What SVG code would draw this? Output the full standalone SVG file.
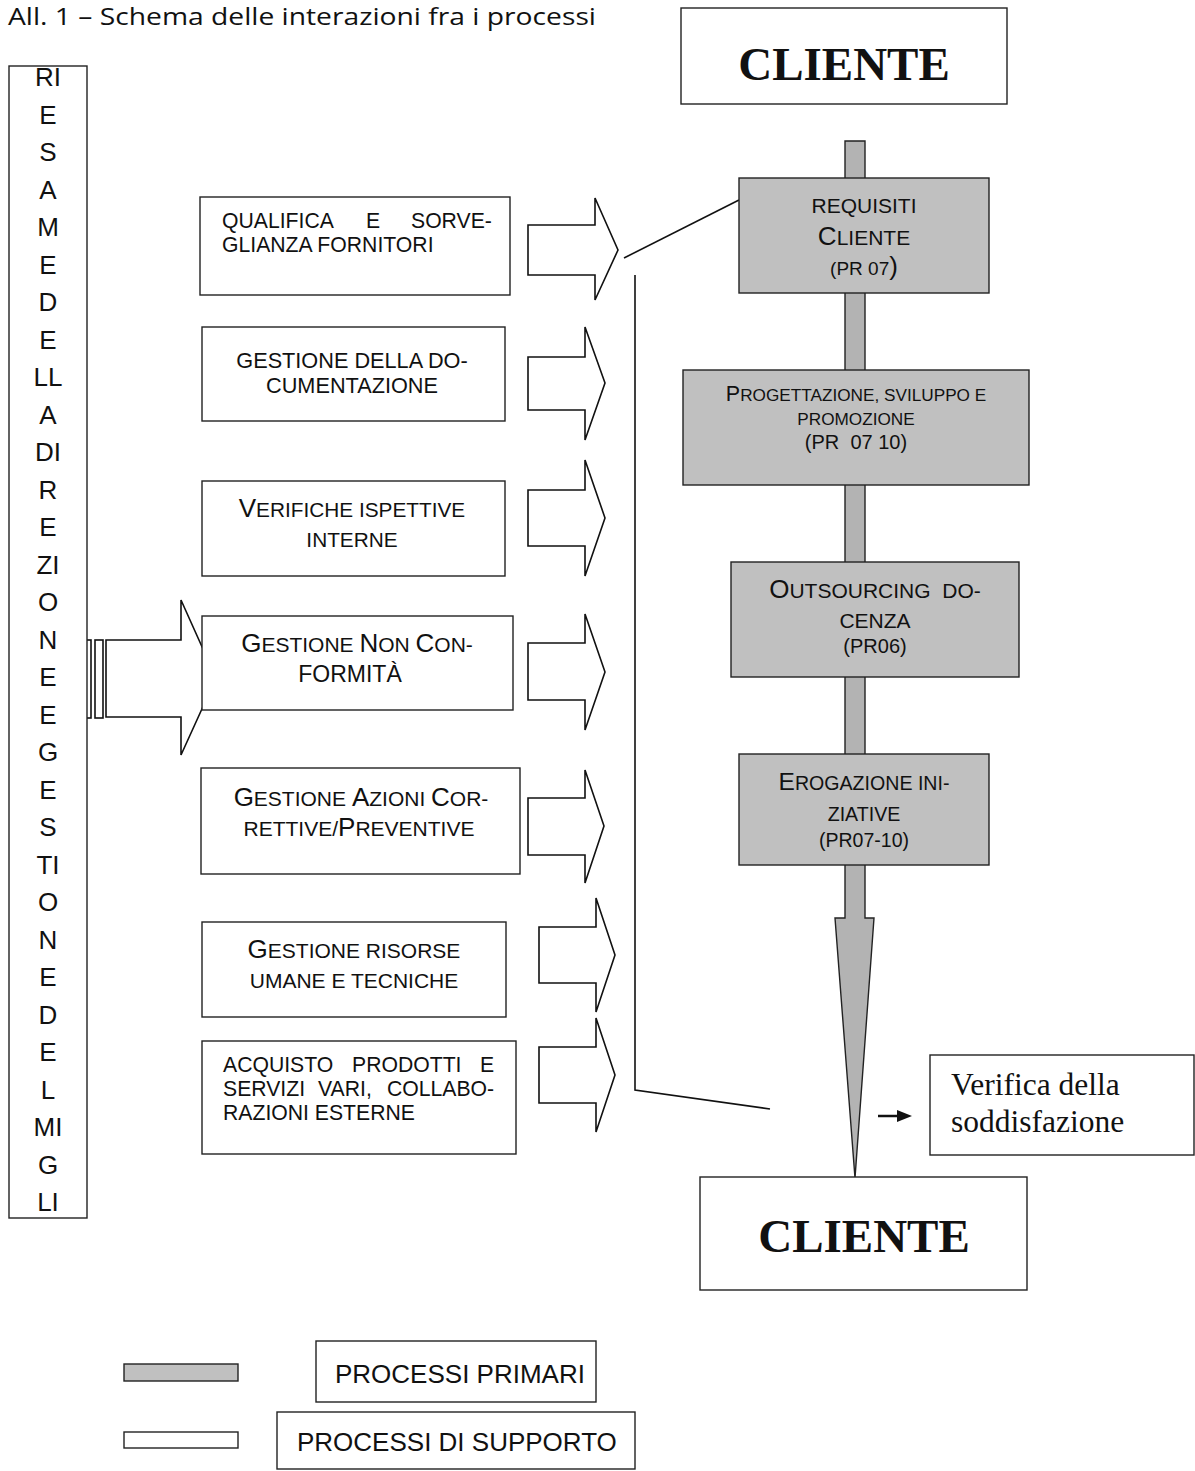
<svg xmlns="http://www.w3.org/2000/svg" width="1195" height="1471" viewBox="0 0 1195 1471">
<style>
.box{fill:#fff;stroke:#222;stroke-width:1.4}
.gbox{fill:#c0c0c0;stroke:#222;stroke-width:1.4}
.bar{fill:#b3b3b3;stroke:#222;stroke-width:1.4}
.blk{fill:#fff;stroke:#111;stroke-width:1.6;stroke-linejoin:miter}
.ln{fill:none;stroke:#111;stroke-width:1.6}
.t{font-family:"Liberation Sans",Arial,sans-serif;fill:#111}
.c{text-anchor:middle}
.v{font-family:"Liberation Sans",Arial,sans-serif;font-size:26px;text-anchor:middle;fill:#111}
.serif{font-family:"Liberation Serif","Times New Roman",serif;fill:#111}
.pre{white-space:pre}
</style>

<text x="8" y="25" font-family="Open Sans, Noto Sans, sans-serif" font-size="23" fill="#111" textLength="588" lengthAdjust="spacingAndGlyphs">All. 1 – Schema delle interazioni fra i processi</text>

<!-- primary flow bar + funnel -->
<g id="primary-flow">
<polygon class="bar" points="845,141 865,141 865,918 874,918 855,1178 835,918 845,918"/>
</g>

<!-- connectors -->
<g id="connectors">
<polygon class="blk" points="528,225 595,225 595,198 618,250 595,300 595,275 528,275"/>
<polygon class="blk" points="528,357 585,357 585,327 605,383 585,440 585,410 528,410"/>
<polygon class="blk" points="528,490 585,490 585,460 605,518 585,576 585,546 528,546"/>
<polygon class="blk" points="528,643 585,643 585,614 605,672 585,730 585,700 528,700"/>
<polygon class="blk" points="528,798 585,798 585,770 604,826 585,883 585,855 528,855"/>
<polygon class="blk" points="539,927 596,927 596,898 615,955 596,1012 596,983 539,983"/>
<polygon class="blk" points="539,1047 596,1047 596,1018 615,1075 596,1132 596,1103 539,1103"/>
<g id="big-arrow">
<rect class="blk" x="86" y="640" width="5" height="78"/>
<rect class="blk" x="95" y="640" width="8" height="78"/>
<polygon class="blk" points="106,640 181,640 181,600 216,678 181,755 181,717 106,717"/>
</g>
<line class="ln" x1="739" y1="200" x2="624" y2="258"/>
<polyline class="ln" points="635,275 635,1090 770,1109"/>
<line x1="878" y1="1116" x2="899" y2="1116" stroke="#111" stroke-width="2.5"/>
<polygon points="897,1110 912,1116 897,1122" fill="#111"/>
</g>

<g id="riesame">
<rect class="box" x="9" y="66" width="78" height="1152"/>
<text class="v" x="48" y="86">RI</text>
<text class="v" x="48" y="123.5">E</text>
<text class="v" x="48" y="161">S</text>
<text class="v" x="48" y="198.5">A</text>
<text class="v" x="48" y="236">M</text>
<text class="v" x="48" y="273.5">E</text>
<text class="v" x="48" y="311">D</text>
<text class="v" x="48" y="348.5">E</text>
<text class="v" x="48" y="386">LL</text>
<text class="v" x="48" y="423.5">A</text>
<text class="v" x="48" y="461">DI</text>
<text class="v" x="48" y="498.5">R</text>
<text class="v" x="48" y="536">E</text>
<text class="v" x="48" y="573.5">ZI</text>
<text class="v" x="48" y="611">O</text>
<text class="v" x="48" y="648.5">N</text>
<text class="v" x="48" y="686">E</text>
<text class="v" x="48" y="723.5">E</text>
<text class="v" x="48" y="761">G</text>
<text class="v" x="48" y="798.5">E</text>
<text class="v" x="48" y="836">S</text>
<text class="v" x="48" y="873.5">TI</text>
<text class="v" x="48" y="911">O</text>
<text class="v" x="48" y="948.5">N</text>
<text class="v" x="48" y="986">E</text>
<text class="v" x="48" y="1023.5">D</text>
<text class="v" x="48" y="1061">E</text>
<text class="v" x="48" y="1098.5">L</text>
<text class="v" x="48" y="1136">MI</text>
<text class="v" x="48" y="1173.5">G</text>
<text class="v" x="48" y="1211">LI</text>
</g>

<g id="cliente-top">
<rect class="box" x="681" y="8" width="326" height="96"/>
<text class="serif c" x="844" y="80" font-size="47" font-weight="bold">CLIENTE</text>
</g>

<g id="requisiti">
<rect class="gbox" x="739" y="178" width="250" height="115"/>
<text class="t c" x="864" y="213" font-size="21">REQUISITI</text>
<text class="t c" x="864" y="245"><tspan font-size="26">C</tspan><tspan font-size="21">LIENTE</tspan></text>
<text class="t c" x="864" y="275"><tspan font-size="19">(PR 07</tspan><tspan font-size="26">)</tspan></text>
</g>

<g id="progettazione">
<rect class="gbox" x="683" y="370" width="346" height="115"/>
<text class="t c" x="856" y="401"><tspan font-size="21.5">P</tspan><tspan font-size="17.2">ROGETTAZIONE, SVILUPPO E</tspan></text>
<text class="t c" x="856" y="425" font-size="17.2">PROMOZIONE</text>
<text class="t c pre" x="856" y="449" font-size="20">(PR  07 10)</text>
</g>

<g id="outsourcing">
<rect class="gbox" x="731" y="562" width="288" height="115"/>
<text class="t c pre" x="875" y="598"><tspan font-size="26">O</tspan><tspan font-size="21">UTSOURCING  DO-</tspan></text>
<text class="t c" x="875" y="628" font-size="21">CENZA</text>
<text class="t c" x="875" y="653" font-size="20">(PR06)</text>
</g>

<g id="erogazione">
<rect class="gbox" x="739" y="754" width="250" height="111"/>
<text class="t c" x="864" y="790"><tspan font-size="24.5">E</tspan><tspan font-size="19.6">ROGAZIONE INI-</tspan></text>
<text class="t c" x="864" y="821" font-size="19.6">ZIATIVE</text>
<text class="t c" x="864" y="847" font-size="19.5">(PR07-10)</text>
</g>

<g id="cliente-bottom">
<rect class="box" x="700" y="1177" width="327" height="113"/>
<text class="serif c" x="864" y="1252" font-size="47" font-weight="bold">CLIENTE</text>
</g>

<g id="verifica-soddisfazione">
<rect class="box" x="930" y="1055" width="264" height="100"/>
<text class="serif" x="951" y="1095" font-size="31.5">Verifica della</text>
<text class="serif" x="951" y="1132" font-size="31.5">soddisfazione</text>
</g>

<g id="qualifica">
<rect class="box" x="200" y="197" width="310" height="98"/>
<text class="t" y="228" font-size="21.2"><tspan x="222">QUALIFICA</tspan><tspan x="366">E</tspan><tspan x="411">SORVE-</tspan></text>
<text class="t" x="222" y="252" font-size="21.2">GLIANZA FORNITORI</text>
</g>

<g id="documentazione">
<rect class="box" x="202" y="327" width="303" height="94"/>
<text class="t c" x="352" y="368" font-size="21.7">GESTIONE DELLA DO-</text>
<text class="t c" x="352" y="393" font-size="21.7">CUMENTAZIONE</text>
</g>

<g id="verifiche-ispettive">
<rect class="box" x="202" y="481" width="303" height="95"/>
<text class="t c" x="352" y="517"><tspan font-size="26">V</tspan><tspan font-size="20.8">ERIFICHE ISPETTIVE</tspan></text>
<text class="t c" x="352" y="547" font-size="20.8">INTERNE</text>
</g>

<g id="non-conformita">
<rect class="box" x="202" y="616" width="311" height="94"/>
<text class="t c" x="357" y="652"><tspan font-size="26">G</tspan><tspan font-size="21">ESTIONE </tspan><tspan font-size="26">N</tspan><tspan font-size="21">ON </tspan><tspan font-size="26">C</tspan><tspan font-size="21">ON-</tspan></text>
<text class="t c" x="350" y="682" font-size="23">FORMITÀ</text>
</g>

<g id="azioni-correttive">
<rect class="box" x="201" y="768" width="319" height="106"/>
<text class="t c" x="361" y="806"><tspan font-size="26">G</tspan><tspan font-size="21">ESTIONE </tspan><tspan font-size="26">A</tspan><tspan font-size="21">ZIONI </tspan><tspan font-size="26">C</tspan><tspan font-size="21">OR-</tspan></text>
<text class="t c" x="359" y="836"><tspan font-size="21">RETTIVE/</tspan><tspan font-size="26">P</tspan><tspan font-size="21">REVENTIVE</tspan></text>
</g>

<g id="risorse">
<rect class="box" x="202" y="922" width="304" height="95"/>
<text class="t c" x="354" y="958"><tspan font-size="26">G</tspan><tspan font-size="21">ESTIONE RISORSE</tspan></text>
<text class="t c" x="354" y="988" font-size="21">UMANE E TECNICHE</text>
</g>

<g id="acquisto">
<rect class="box" x="202" y="1041" width="314" height="113"/>
<text class="t" y="1072" font-size="21.2"><tspan x="223">ACQUISTO</tspan><tspan x="352">PRODOTTI</tspan><tspan x="480">E</tspan></text>
<text class="t" y="1096" font-size="21.2"><tspan x="223">SERVIZI</tspan><tspan x="318">VARI,</tspan><tspan x="387">COLLABO-</tspan></text>
<text class="t" x="223" y="1120" font-size="21.2">RAZIONI ESTERNE</text>
</g>

<g id="legend">
<rect class="gbox" x="124" y="1364" width="114" height="17"/>
<rect class="box" x="124" y="1432" width="114" height="16"/>
<rect class="box" x="316" y="1341" width="280" height="61"/>
<text class="t" x="335" y="1383" font-size="26">PROCESSI PRIMARI</text>
<rect class="box" x="277" y="1412" width="358" height="57"/>
<text class="t" x="297" y="1451" font-size="26">PROCESSI DI SUPPORTO</text>
</g>
</svg>
